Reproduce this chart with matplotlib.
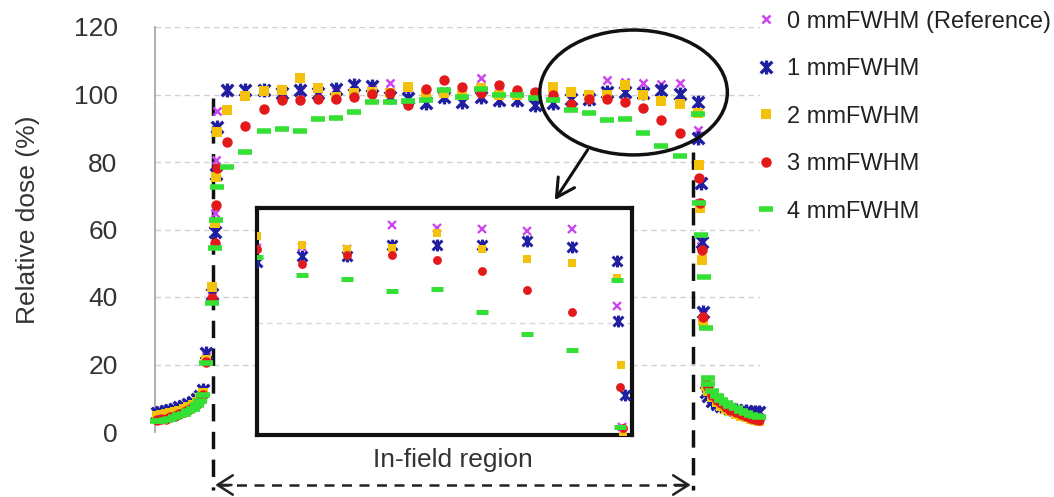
import numpy as np
import matplotlib.pyplot as plt
from matplotlib.path import Path
from matplotlib.patches import Ellipse

plt.rcParams['font.family'] = ['Liberation Sans', 'DejaVu Sans']

# lateral position (mm)
x_tail_l = [-16.9, -16.65, -16.4, -16.15, -15.9, -15.65, -15.4, -15.15, -14.9, -14.7, -14.5, -14.35]
x_pen_l = [-14.2, -13.85, -13.7, -13.62, -13.55]
x_field = list(range(-13, 13))
x_tail_r = [13.6, 13.8, 14.05, 14.3, 14.55, 14.8, 15.1, 15.4, 15.7, 15.95, 16.2, 16.4]

labels = ['0 mmFWHM (Reference)', '1 mmFWHM', '2 mmFWHM', '3 mmFWHM', '4 mmFWHM']

# relative dose (%) per blur level
tail_l_0 = [5.0, 5.3, 5.6, 5.9, 6.3, 6.8, 7.3, 7.9, 8.6, 9.4, 10.4, 12.0]
tail_l_1 = [5.6, 5.9, 6.2, 6.5, 6.9, 7.3, 7.8, 8.3, 9.0, 9.8, 10.8, 12.4]
tail_l_2 = [4.6, 4.9, 5.2, 5.5, 5.9, 6.3, 6.8, 7.4, 8.1, 9.0, 10.0, 11.6]
tail_l_3 = [3.6, 3.8, 4.0, 4.3, 4.7, 5.2, 5.8, 6.5, 7.3, 8.3, 9.5, 11.0]
tail_l_4 = [3.2, 3.4, 3.7, 4.0, 4.4, 4.9, 5.4, 6.1, 6.9, 7.9, 9.2, 11.0]

pen_l_0 = [22.5, 42.0, 65.0, 80.5, 95.0]
pen_l_1 = [23.5, 41.0, 59.3, 76.5, 90.5]
pen_l_2 = [21.3, 43.0, 62.0, 75.6, 88.8]
pen_l_3 = [20.7, 39.7, 56.0, 67.3, 78.2]
pen_l_4 = [20.4, 38.2, 54.5, 62.8, 72.6]

field_0 = [101.0, 101.3, 101.3, 100.8, 101.0, 101.7, 101.0, 101.2, 101.5, 103.4, 101.8, 100.5, 101.0,
           100.5, 104.9, 101.0, 100.5, 100.0, 100.0, 100.3, 99.8, 104.2, 103.6, 103.4, 103.1, 103.4]
field_1 = [101.3, 101.3, 101.3, 100.5, 101.3, 100.5, 101.6, 102.8, 102.5, 99.3, 99.0, 97.5, 99.3,
           97.8, 99.3, 98.5, 98.5, 96.9, 97.5, 98.6, 98.6, 100.6, 100.6, 100.5, 101.3, 100.2]
field_2 = [95.4, 99.6, 101.0, 101.3, 104.8, 102.0, 99.3, 100.4, 100.7, 100.5, 102.2, 100.0, 100.5,
           100.0, 102.0, 100.0, 100.0, 100.0, 102.2, 100.6, 99.8, 100.0, 102.7, 99.9, 98.0, 97.3]
field_3 = [86.0, 90.7, 95.8, 98.4, 98.4, 98.8, 98.8, 99.3, 100.1, 100.4, 96.9, 101.6, 104.3,
           102.2, 100.5, 102.8, 101.3, 100.7, 99.9, 97.2, 98.8, 98.8, 97.9, 96.0, 92.5, 88.6]
field_4 = [78.5, 83.0, 89.2, 89.8, 89.2, 92.7, 93.0, 94.8, 97.8, 97.8, 98.0, 98.5, 101.3,
           99.3, 101.5, 100.0, 100.0, 99.0, 98.5, 95.3, 94.5, 92.4, 92.8, 88.6, 84.7, 81.8]

pen_r_x_0 = [13.0, 13.1, 13.18, 13.28, 13.45]
pen_r_0 = [89.6, 68.0, 55.0, 35.0, 15.0]
pen_r_x_1 = [13.0, 13.03, 13.18, 13.25, 13.3, 13.45]
pen_r_1 = [97.8, 87.0, 73.8, 56.3, 35.5, 12.0]
pen_r_x_2 = [13.0, 13.08, 13.12, 13.22, 13.3, 13.45]
pen_r_2 = [94.6, 79.2, 66.4, 51.0, 33.0, 13.5]
pen_r_x_3 = [13.06, 13.12, 13.22, 13.3, 13.45]
pen_r_3 = [75.2, 67.9, 53.9, 34.0, 14.5]
pen_r_x_4 = [13.0, 13.07, 13.2, 13.38, 13.48, 13.55]
pen_r_4 = [94.3, 68.0, 58.4, 46.0, 30.8, 16.0]

tail_r_0 = [11.8, 10.0, 8.7, 7.8, 7.1, 6.5, 6.0, 5.6, 5.2, 4.9, 4.6, 4.4]
tail_r_1 = [10.6, 9.1, 8.3, 7.7, 7.3, 6.9, 6.6, 6.3, 6.1, 5.9, 5.8, 6.0]
tail_r_2 = [12.2, 10.3, 8.9, 7.8, 6.9, 6.1, 5.4, 4.8, 4.3, 3.8, 3.5, 3.2]
tail_r_3 = [13.2, 11.1, 9.6, 8.5, 7.5, 6.6, 5.9, 5.2, 4.7, 4.2, 3.9, 3.6]
tail_r_4 = [14.2, 12.1, 10.6, 9.4, 8.5, 7.7, 7.0, 6.3, 5.6, 5.1, 4.7, 4.4]

# star marker: X with a vertical bar
star = Path([(-1, -1), (1, 1), (-1, 1), (1, -1), (0, -1.2), (0, 1.2)],
            [Path.MOVETO, Path.LINETO, Path.MOVETO, Path.LINETO, Path.MOVETO, Path.LINETO])

styles = [
    dict(marker='x', color='#cc44ee', ms=6, mew=1.8),
    dict(marker=star, color='#1f1fa0', ms=10, mew=2.4),
    dict(marker='s', color='#f4c20d', ms=7, mew=0),
    dict(marker='o', color='#e31a1c', ms=7.5, mew=0),
    dict(marker='_', color='#35e035', ms=10, mew=4),
]

series = [
    (tail_l_0, pen_l_0, field_0, pen_r_x_0, pen_r_0, tail_r_0),
    (tail_l_1, pen_l_1, field_1, pen_r_x_1, pen_r_1, tail_r_1),
    (tail_l_2, pen_l_2, field_2, pen_r_x_2, pen_r_2, tail_r_2),
    (tail_l_3, pen_l_3, field_3, pen_r_x_3, pen_r_3, tail_r_3),
    (tail_l_4, pen_l_4, field_4, pen_r_x_4, pen_r_4, tail_r_4),
]

profiles = []
for tl, pl, fd, prx, pr, tr in series:
    x = np.array(x_tail_l + x_pen_l + x_field + prx + x_tail_r)
    y = np.array(tl + pl + fd + pr + tr)
    profiles.append((x, y))

fig = plt.figure(figsize=(10.54, 4.97), dpi=100)
ax = fig.add_axes([155 / 1054, 1 - 432 / 497, 605 / 1054, 405 / 497])

handles = []
for (x, y), st in zip(profiles, styles):
    h, = ax.plot(x, y, ls='none', marker=st['marker'], color=st['color'],
                 ms=st['ms'], mew=st['mew'], clip_on=False, zorder=3)
    handles.append(h)

ax.set_xlim(-17.0, 16.45)
ax.set_ylim(0, 120)
ax.set_yticks(np.arange(0, 121, 20))
ax.set_xticks([])
ax.tick_params(axis='y', length=0, pad=27, labelsize=19, labelcolor='#333333')
ax.grid(axis='y', color='#d0d0d0', ls=(0, (4, 3)), lw=1)
ax.get_ygridlines()[0].set_visible(False)
ax.set_axisbelow(True)
for s in ['top', 'right', 'bottom']:
    ax.spines[s].set_visible(False)
ax.spines['left'].set_color('#a8a8a8')
ax.spines['left'].set_linewidth(1.3)
ax.set_ylabel('Relative dose (%)', fontsize=19, color='#333333')
ax.yaxis.set_label_coords(-0.19, 0.523)

# field edges and in-field span
x_edge_l, x_edge_r = -13.77, 12.72
ax.plot([x_edge_l, x_edge_l], [99, -17.2], color='#111111', lw=2.5, ls=(0, (5, 3)),
        clip_on=False, zorder=2)
ax.plot([x_edge_r, x_edge_r], [83, -17.2], color='#111111', lw=2.5, ls=(0, (5, 3)),
        clip_on=False, zorder=2)
y_arr = -15.7
ax.plot([x_edge_l + 0.3, x_edge_r - 0.3], [y_arr, y_arr], color='#222222', lw=1.8,
        ls=(0, (4, 3)), clip_on=False)
for tip, tail in [(x_edge_l + 0.1, x_edge_l + 1.0), (x_edge_r - 0.1, x_edge_r - 1.0)]:
    ax.annotate('', xy=(tip, y_arr), xytext=(tail, y_arr), annotation_clip=False,
                arrowprops=dict(arrowstyle='->,head_length=1.1,head_width=0.7', lw=1.8,
                                color='#222222', mutation_scale=10, shrinkA=0, shrinkB=0))
ax.text((x_edge_l + x_edge_r) / 2, -8.3, 'In-field region', ha='center', va='center',
        fontsize=19, color='#333333', clip_on=False)

# highlighted region and pointer to the enlarged view
ax.add_patch(Ellipse((9.46, 100.6), 10.37, 37.0, fill=False, ec='#111111', lw=2.5,
                     clip_on=False, zorder=5))
ax.annotate('', xy=(5.1, 68.7), xytext=(6.92, 83.6), annotation_clip=False,
            arrowprops=dict(arrowstyle='->,head_length=1.3,head_width=0.7', lw=2.2,
                            color='#111111', mutation_scale=10, shrinkA=0, shrinkB=0))

# enlarged view of the right shoulder
ax_in = fig.add_axes([257 / 1054, 1 - 435 / 497, 375 / 1054, 227 / 497], zorder=4)
ax_in.set_facecolor('white')
for (x, y), st in zip(profiles, styles):
    ax_in.plot(x, y, ls='none', marker=st['marker'], color=st['color'],
               ms=st['ms'] * 0.85, mew=st['mew'] * 0.9, zorder=3)
ax_in.set_xlim(5.0, 13.33)
ax_in.set_ylim(66.6, 107.2)
ax_in.set_xticks([])
ax_in.set_yticks([86.6])
ax_in.tick_params(length=0, labelleft=False)
ax_in.grid(axis='y', color='#d8d8d8', ls=(0, (4, 3)), lw=1)
for s in ax_in.spines.values():
    s.set_color('#111111')
    s.set_linewidth(3)

fig.legend(handles, labels, loc='upper left', bbox_to_anchor=(752 / 1054, 0.988),
           frameon=False, fontsize=17, handlelength=0.8, handletextpad=0.5,
           labelspacing=1.08, borderaxespad=0, borderpad=0.2, labelcolor='#222222')

fig.savefig('out.png', dpi=100)
